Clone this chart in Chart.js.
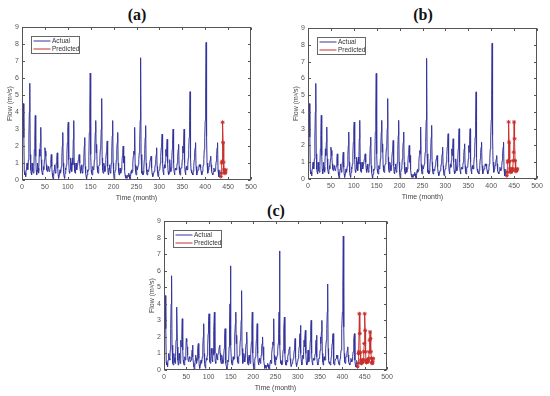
<!DOCTYPE html>
<html><head><meta charset="utf-8">
<script src="https://cdn.jsdelivr.net/npm/chart.js@4.4.1/dist/chart.umd.min.js"></script>
<style>
html,body{margin:0;padding:0;background:#fff;width:550px;height:396px;overflow:hidden;position:relative}
canvas{position:absolute}
.ttl{position:absolute;font-family:"Liberation Serif","Times New Roman",serif;font-weight:bold;font-size:16px;color:#111;transform:translate(-50%,-50%);white-space:nowrap}
</style></head><body>
<div class="ttl" style="left:137px;top:15px">(a)</div>
<div class="ttl" style="left:423px;top:15px">(b)</div>
<div class="ttl" style="left:276px;top:211px">(c)</div>
<canvas id="ca" width="262" height="182" style="left:0px;top:20px"></canvas>
<canvas id="cb" width="262" height="180" style="left:286px;top:21px"></canvas>
<canvas id="cc" width="256" height="178" style="left:142px;top:214px"></canvas>
<script>
// Monthly observed flow (m3/s), months 1..432, one row per year
const actualFlow = [
 4.4,4.3,4.5,2.5,0.5,0.3,0.4,0.2,0.6,0.8,1.0,0.7,
 0.6,1.2,2.5,4.0,5.7,1.5,0.6,0.4,0.3,1.0,0.7,0.5,
 0.4,0.8,1.8,2.6,3.8,1.4,0.6,0.3,0.5,1.0,0.7,0.4,
 0.5,1.8,1.4,2.2,3.1,1.2,0.6,0.4,0.3,0.6,0.8,0.6,
 1.2,1.9,1.7,1.4,0.9,0.6,0.5,0.6,0.8,0.7,0.5,0.5,
 0.6,0.8,1.2,1.5,0.8,0.4,0.2,0.05,0.2,0.6,0.9,0.7,
 0.4,0.6,1.0,1.3,1.6,0.7,0.3,0.1,0.3,0.5,0.6,0.4,
 0.5,0.8,1.4,2.0,2.8,1.0,0.4,0.2,0.1,0.4,0.7,0.6,
 0.9,1.5,2.2,3.0,3.4,1.2,0.5,0.4,0.6,1.3,1.0,0.6,
 0.5,1.3,0.9,2.4,3.5,1.0,0.5,0.4,0.7,1.0,0.8,0.6,
 0.9,1.0,1.2,1.4,1.5,1.0,0.6,0.4,0.8,0.9,0.6,0.4,
 0.6,0.9,1.3,2.0,2.5,0.8,0.4,0.2,0.05,0.3,0.6,0.5,
 0.6,1.4,2.8,4.0,6.3,1.5,0.6,0.4,0.3,0.4,0.8,0.6,
 0.7,1.2,2.0,2.8,3.5,1.6,2.1,0.8,0.5,0.4,0.6,0.8,
 0.9,1.3,1.8,2.0,3.0,4.8,1.3,0.6,0.4,0.6,1.0,0.8,
 0.5,0.8,1.2,1.6,1.8,2.3,0.8,0.4,0.3,0.7,0.9,0.6,
 0.4,0.6,1.0,1.7,2.6,3.5,1.0,0.4,0.1,0.05,0.4,0.6,
 0.8,1.2,1.8,2.2,2.8,1.0,0.5,0.3,0.5,0.7,0.5,0.4,
 0.6,0.9,1.4,1.6,2.0,1.0,1.4,0.6,0.3,0.1,0.3,0.2,
 0.1,0.2,0.3,0.2,0.4,0.3,0.1,0.05,0.2,0.5,0.6,0.4,
 0.5,1.0,1.4,1.7,1.5,3.1,0.9,0.5,0.3,0.6,0.8,0.6,
 0.6,0.9,1.2,1.6,2.2,3.5,7.2,1.5,0.6,0.4,0.5,0.3,
 0.4,0.7,1.2,1.8,2.5,3.2,1.0,0.5,0.3,0.3,0.6,0.5,
 0.6,0.8,1.0,1.2,1.3,1.4,0.7,0.4,0.2,0.2,0.4,0.5,
 0.5,0.7,0.9,1.2,1.5,1.9,0.8,0.4,0.2,0.3,0.5,0.6,
 0.7,1.0,1.4,1.9,2.2,2.7,1.0,0.5,0.3,0.6,0.9,0.7,
 1.1,1.8,1.4,1.9,2.4,1.0,0.5,0.3,0.4,0.8,1.2,0.7,
 0.5,0.7,1.2,1.8,2.4,3.0,1.0,0.5,0.3,0.5,0.7,0.6,
 0.6,0.8,1.0,1.4,1.8,2.1,0.8,0.4,0.3,0.5,0.7,0.7,
 0.8,1.2,2.0,1.6,2.3,3.0,1.0,0.5,0.3,0.6,0.8,0.6,
 0.6,0.9,1.3,1.8,2.5,3.5,5.2,1.3,0.6,0.4,0.5,0.4,
 0.3,0.5,0.8,1.2,1.6,1.9,2.2,0.8,0.4,0.3,0.5,0.6,
 0.6,0.7,0.9,0.8,0.9,0.7,0.5,0.4,0.3,0.5,0.7,0.9,
 1.2,1.8,2.5,3.5,5.0,8.1,2.6,1.0,0.5,0.4,0.6,0.8,
 0.8,1.0,1.2,1.4,0.9,0.5,0.4,0.3,0.3,0.5,0.7,0.6,
 0.5,0.6,0.8,1.1,1.5,1.9,2.2,0.6,0.3,0.2,0.4,0.6
];
const predStartMonth = 434;
// Predicted flow, 12 / 24 / 36 months ahead
const predictedA = [0.2,0.4,1.0,1.1,3.4,2.2,1.05,0.6,0.45,0.4,0.45,0.6];
const predictedB = [0.2,0.4,1.0,1.1,3.4,2.2,1.05,0.6,0.45,0.4,0.45,0.6,
                    0.5,0.6,1.1,1.6,3.4,2.4,1.1,0.6,0.45,0.5,0.55,0.6];
const predictedC = [0.2,0.4,1.0,1.1,3.4,2.2,1.05,0.6,0.45,0.4,0.45,0.6,
                    0.5,0.6,1.1,1.6,3.4,2.4,1.1,0.6,0.45,0.5,0.55,0.6,
                    0.5,0.7,1.1,1.8,2.3,1.9,1.1,0.7,0.45,0.4,0.5,0.7];
const seriesLabels = ['Actual','Predicted'];
const xTitle = 'Time (month)';
const yTitle = 'Flow (m³/s)';

const BLUE = '#34349c', RED = '#c8302c', AXC = '#555555';

const framePlugin = {
  id: 'frame',
  afterDraw(chart) {
    const {ctx, chartArea: a, scales: {x, y}} = chart;
    ctx.save();
    ctx.strokeStyle = AXC; ctx.lineWidth = 1;
    const L = Math.round(a.left) + 0.5, R = Math.round(a.right) - 0.5;
    const T = Math.round(a.top) + 0.5, B = Math.round(a.bottom) - 0.5;
    ctx.strokeRect(L, T, R - L, B - T);
    ctx.beginPath();
    const tl = 2.5;
    x.ticks.forEach(t => {
      const p = Math.round(x.getPixelForValue(t.value)) + 0.5;
      ctx.moveTo(p, B); ctx.lineTo(p, B - tl);
      ctx.moveTo(p, T); ctx.lineTo(p, T + tl);
    });
    y.ticks.forEach(t => {
      const p = Math.round(y.getPixelForValue(t.value)) + 0.5;
      ctx.moveTo(L, p); ctx.lineTo(L + tl, p);
      ctx.moveTo(R, p); ctx.lineTo(R - tl, p);
    });
    ctx.stroke();
    // legend box (inside, top-left)
    const bx = Math.round(a.left + 9) + 0.5, by = Math.round(a.top + 9) + 0.5;
    const bw = 48, bh = 17;
    ctx.fillStyle = '#fff';
    ctx.fillRect(bx, by, bw, bh);
    ctx.strokeStyle = '#666';
    ctx.strokeRect(bx, by, bw, bh);
    const rows = [[seriesLabels[0], BLUE], [seriesLabels[1], RED]];
    ctx.font = '6.5px "Liberation Sans", Arial, sans-serif';
    ctx.textBaseline = 'middle';
    rows.forEach((r, i) => {
      const ry = by + 4.5 + i * 8;
      ctx.strokeStyle = r[1]; ctx.lineWidth = 1;
      ctx.beginPath(); ctx.moveTo(bx + 2, ry); ctx.lineTo(bx + 19, ry); ctx.stroke();
      ctx.fillStyle = '#333';
      ctx.fillText(r[0], bx + 20.5, ry);
    });
    ctx.restore();
  }
};

function makeChart(id, predicted) {
  const actualPts = actualFlow.map((v, i) => ({x: i + 1, y: v}));
  const predPts = predicted.map((v, i) => ({x: predStartMonth + i, y: v}));
  const tickFont = {family: '"Liberation Sans", Arial, sans-serif', size: 7};
  return new Chart(document.getElementById(id), {
    type: 'line',
    data: {datasets: [
      {label: seriesLabels[0], data: actualPts, borderColor: BLUE, borderWidth: 1, pointRadius: 0, tension: 0},
      {label: seriesLabels[1], data: predPts, borderColor: RED, borderWidth: 1,
       pointStyle: 'star', pointRadius: 2, pointBorderColor: RED, pointBorderWidth: 1, tension: 0}
    ]},
    options: {
      responsive: false, animation: false, events: [],
      layout: {padding: {top: 6, right: 11, left: 0, bottom: 0}},
      plugins: {legend: {display: false}, tooltip: {enabled: false}},
      scales: {
        x: {type: 'linear', min: 0, max: 500,
            afterFit: s => { s.height = 22; },
            grid: {display: false, drawTicks: false}, border: {display: false},
            ticks: {stepSize: 50, padding: 3, font: tickFont, color: '#555', maxRotation: 0, autoSkip: false},
            title: {display: true, text: xTitle, font: tickFont, color: '#444', padding: {top: 0, bottom: 0}}},
        y: {type: 'linear', min: 0, max: 9,
            afterFit: s => { s.width = 22; },
            grid: {display: false, drawTicks: false}, border: {display: false},
            ticks: {stepSize: 1, padding: 3, font: tickFont, color: '#555'},
            title: {display: true, text: yTitle, font: tickFont, color: '#444', padding: {top: 6, bottom: 0}}}
      }
    },
    plugins: [framePlugin]
  });
}
makeChart('ca', predictedA);
makeChart('cb', predictedB);
makeChart('cc', predictedC);
</script>
</body></html>
